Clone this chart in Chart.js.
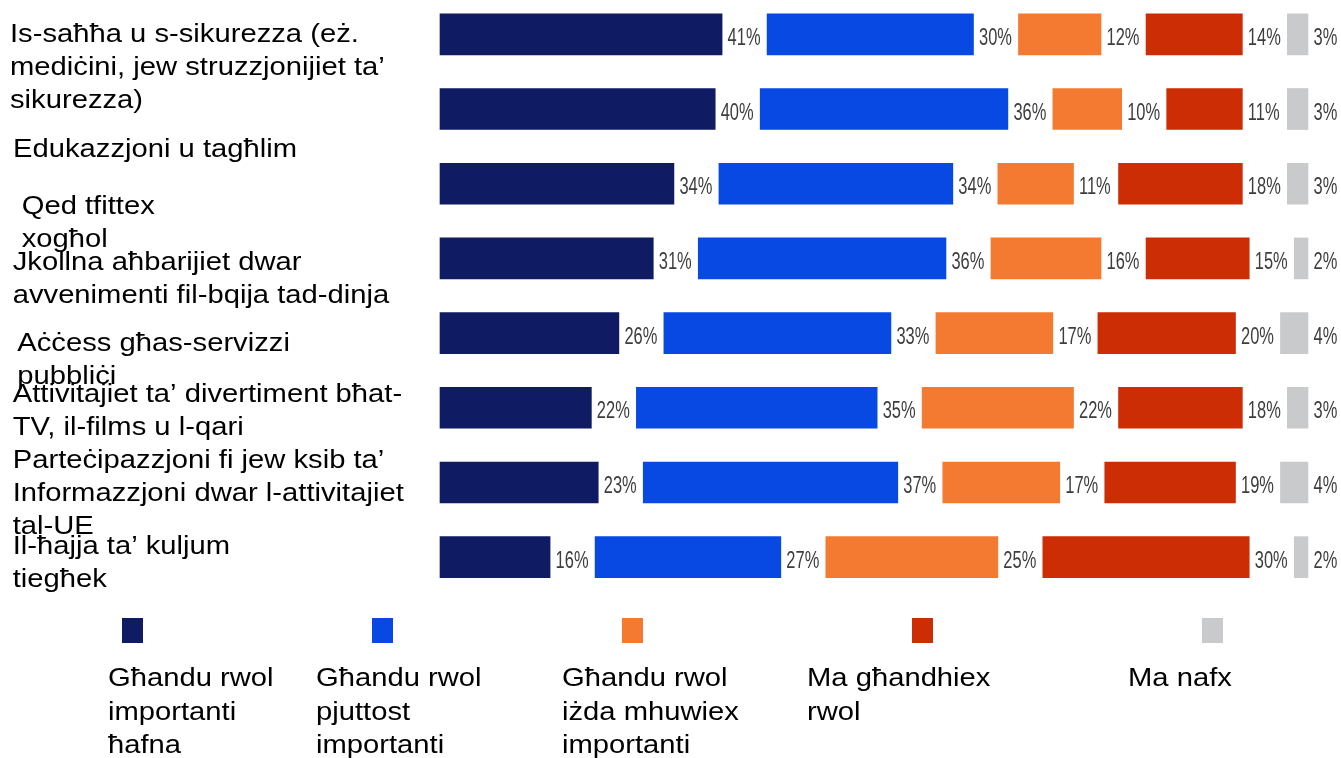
<!DOCTYPE html>
<html>
<head>
<meta charset="utf-8">
<script src="https://cdn.jsdelivr.net/npm/chart.js@4.4.1/dist/chart.umd.min.js"></script>
<style>
  html, body { margin: 0; padding: 0; background: #ffffff; overflow: hidden; }
  #wrap { position: absolute; left: 0; top: -3px; width: 1341px; height: 761px; }
</style>
</head>
<body>
<div id="wrap"><canvas id="c"></canvas></div>
<script>
// ---- data ----
const categories = [
  ["Is-saħħa u s-sikurezza (eż.", "mediċini, jew struzzjonijiet ta’", "sikurezza)"],
  ["Edukazzjoni u tagħlim"],
  ["Qed tfittex", "xogħol"],
  ["Jkollna aħbarijiet dwar", "avvenimenti fil-bqija tad-dinja"],
  ["Aċċess għas-servizzi", "pubbliċi"],
  ["Attivitajiet ta’ divertiment bħat-", "TV, il-films u l-qari"],
  ["Parteċipazzjoni fi jew ksib ta’", "Informazzjoni dwar l-attivitajiet", "tal-UE"],
  ["Il-ħajja ta’ kuljum", "tiegħek"]
];
const seriesNames = [
  ["Għandu rwol", "importanti", "ħafna"],
  ["Għandu rwol", "pjuttost", "importanti"],
  ["Għandu rwol", "iżda mhuwiex", "importanti"],
  ["Ma għandhiex", "rwol"],
  ["Ma nafx"]
];
const veryImportant   = [41, 40, 34, 31, 26, 22, 23, 16];
const fairlyImportant = [30, 36, 34, 36, 33, 35, 37, 27];
const notImportant    = [12, 10, 11, 16, 17, 22, 17, 25];
const noRole          = [14, 11, 18, 15, 20, 18, 19, 30];
const dontKnow        = [3, 3, 3, 2, 4, 3, 4, 2];
const valueSuffix = "%";

// ---- styles ----
const colors = ["#0f1b63", "#0849e3", "#f47a31", "#cc2d05", "#c9cacc"];
const GAP = 45;           // px gap between segments (label room)
const OFF = 3;            // canvas offset from page top
const labelFont = "25.5px 'Liberation Sans', Arial, sans-serif";
const labelStretch = 1.145;
const valFont = "23.5px 'Liberation Sans', Arial, sans-serif";
const valSqueeze = 0.7;
const catLabelX = [10, 13, 21.7, 12.7, 17.3, 12.7, 12.7, 12.7];
const catLabelDy = [7.4, 48, 29.8, 11.1, 17.6, -6, -14, -3.6];
const lineH = 33;
const legSqX = [122, 372, 622, 912, 1202];
const legTextX = [108, 316, 562, 807, 1128];

function stretchedText(ctx, txt, x, y, sx) {
  ctx.save();
  ctx.translate(x, y);
  ctx.scale(sx, 1);
  ctx.fillText(txt, 0, 0);
  ctx.restore();
}

const seriesValues = [veryImportant, fairlyImportant, notImportant, noRole, dontKnow];

const gapPlugin = {
  id: 'gapPlugin',
  beforeDatasetsDraw(chart) {
    const xs = chart.scales.x;
    chart.data.datasets.forEach((ds, i) => {
      const meta = chart.getDatasetMeta(i);
      meta.data.forEach((el, j) => {
        let start = 0;
        for (let k = 0; k < i; k++) start += chart.data.datasets[k].data[j];
        const end = start + ds.data[j];
        el.base = xs.getPixelForValue(start) + i * GAP;
        el.x = xs.getPixelForValue(end) + i * GAP;
      });
    });
  },
  afterDatasetsDraw(chart) {
    const ctx = chart.ctx;
    ctx.save();
    // value labels
    ctx.font = valFont;
    ctx.fillStyle = "#3d3d3d";
    ctx.textBaseline = "alphabetic";
    ctx.textAlign = "left";
    chart.data.datasets.forEach((ds, i) => {
      const meta = chart.getDatasetMeta(i);
      meta.data.forEach((el, j) => {
        stretchedText(ctx, ds.data[j] + valueSuffix, el.x + 5.5, el.y + 10.5, valSqueeze);
      });
    });
    // category labels
    ctx.font = labelFont;
    ctx.fillStyle = "#000000";
    const ys = chart.scales.y;
    chart.data.labels.forEach((lab, j) => {
      const cy = ys.getPixelForValue(j);
      lab.forEach((line, n) => {
        stretchedText(ctx, line, catLabelX[j], cy + catLabelDy[j] + n * lineH, labelStretch);
      });
    });
    // legend
    chart.data.datasets.forEach((ds, i) => {
      ctx.fillStyle = ds.backgroundColor;
      ctx.fillRect(legSqX[i], 618 + OFF, 21, 25);
      ctx.fillStyle = "#000000";
      ds.label.forEach((line, n) => {
        stretchedText(ctx, line, legTextX[i], 686 + OFF + n * 33.5, labelStretch);
      });
    });
    ctx.restore();
  }
};

new Chart(document.getElementById('c'), {
  type: 'bar',
  data: {
    labels: categories,
    datasets: seriesValues.map((vals, i) => ({
      label: seriesNames[i],
      data: vals,
      backgroundColor: colors[i],
      borderWidth: 0,
      barThickness: 41,
      clip: false
    }))
  },
  options: {
    indexAxis: 'y',
    responsive: true,
    maintainAspectRatio: false,
    animation: false,
    events: [],
    layout: { padding: { left: 440, right: 213, top: 0, bottom: 163.5 } },
    scales: {
      x: { stacked: true, min: 0, max: 100, display: false },
      y: { stacked: true, display: false }
    },
    plugins: {
      legend: { display: false },
      tooltip: { enabled: false }
    }
  },
  plugins: [gapPlugin]
});
</script>
</body>
</html>
